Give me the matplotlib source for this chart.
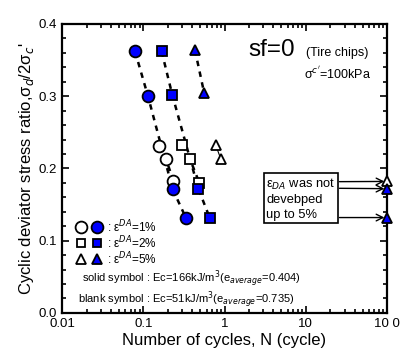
import numpy as np
import matplotlib
matplotlib.use("Agg")
import matplotlib.pyplot as plt
from matplotlib.ticker import LogLocator, MultipleLocator, FixedLocator, FixedFormatter

plt.rcParams['font.family'] = ['Liberation Sans', 'DejaVu Sans']

# Data
c_solid_N = [0.079, 0.114, 0.23, 0.333]
c_solid_R = [0.362, 0.300, 0.171, 0.132]
c_open_N = [0.155, 0.19, 0.234]
c_open_R = [0.231, 0.213, 0.183]

s_solid_N = [0.168, 0.227, 0.475, 0.66]
s_solid_R = [0.362, 0.302, 0.172, 0.131]
s_open_N = [0.302, 0.375, 0.489]
s_open_R = [0.232, 0.213, 0.180]

t_solid_N = [0.432, 0.562]
t_solid_R = [0.364, 0.304]
t_open_N = [0.78, 0.90]
t_open_R = [0.232, 0.213]

edge_N = [100, 100, 100]
edge_R = [0.182, 0.172, 0.132]
edge_open = [True, False, False]

xticks = [0.01, 0.1, 1, 10, 100]
xticklabels = ['0.01', '0.1', '1', '10', '10 0']
yticks = [0.0, 0.1, 0.2, 0.3, 0.4]

blue = '#0000ff'

fig = plt.figure(figsize=(4.01, 3.58), dpi=100)
ax = fig.add_axes([0.155, 0.126, 0.81, 0.807])
ax.set_xscale('log')
ax.set_xlim(0.01, 100)
ax.set_ylim(0, 0.4)

dash = dict(color='black', lw=1.8, ls=(0, (2.2, 2.2)), zorder=2)
ax.plot(c_solid_N, c_solid_R, **dash)
ax.plot(c_open_N, c_open_R, **dash)
ax.plot(s_solid_N, s_solid_R, **dash)
ax.plot(s_open_N, s_open_R, **dash)
ax.plot(t_solid_N, t_solid_R, **dash)
ax.plot(t_open_N, t_open_R, color='black', lw=0.8, zorder=2)

mk = dict(mec='black', mew=1.3, ls='none', zorder=3)
ax.plot(c_open_N, c_open_R, marker='o', ms=8.5, mfc='white', **mk)
ax.plot(c_solid_N, c_solid_R, marker='o', ms=8.5, mfc=blue, **mk)
ax.plot(s_open_N, s_open_R, marker='s', ms=6.5, mfc='white', **mk)
ax.plot(s_solid_N, s_solid_R, marker='s', ms=7, mfc=blue, **mk)
ax.plot(t_open_N, t_open_R, marker='^', ms=6.5, mfc='white', **mk)
ax.plot(t_solid_N, t_solid_R, marker='^', ms=6.5, mfc=blue, **mk)
for n, r, o in zip(edge_N, edge_R, edge_open):
    ax.plot([n], [r], marker='^', ms=6.5, mfc='white' if o else blue, clip_on=False, **mk)

# ticks
ax.xaxis.set_major_locator(FixedLocator(xticks))
ax.xaxis.set_major_formatter(FixedFormatter(xticklabels))
ax.xaxis.set_minor_locator(LogLocator(base=10, subs=np.arange(2, 10)))
ax.xaxis.set_minor_formatter(plt.NullFormatter())
ax.yaxis.set_major_locator(FixedLocator(yticks))
ax.yaxis.set_minor_locator(MultipleLocator(0.02))
ax.tick_params(which='both', direction='in', top=True, right=True, labelsize=9.5, width=1.2)
ax.tick_params(which='major', length=5)
ax.tick_params(which='minor', length=3)
for s in ax.spines.values():
    s.set_linewidth(1.6)

ax.set_xlabel('Number of cycles, N (cycle)', fontsize=12, labelpad=2)
ax.set_ylabel("Cyclic deviator stress ratio,σ$_{d}$/2σ$_{c}$'", fontsize=12, labelpad=2)

# annotations
ax.text(0.572, 0.889, 'sf=0', transform=ax.transAxes, fontsize=17.5, ha='left', va='baseline')
ax.text(0.752, 0.889, '(Tire chips)', transform=ax.transAxes, fontsize=9, ha='left', va='baseline')
ax.text(0.745, 0.81, "σ$^{c'}$=100kPa", transform=ax.transAxes, fontsize=9, ha='left', va='baseline')

# legend-like text
lx1, lx2 = 0.057, 0.108
rows = [(0.296, 'o', ': ε$^{DA}$=1%', 8.5), (0.242, 's', ': ε$^{DA}$=2%', 6), (0.188, '^', ': ε$^{DA}$=5%', 6.5)]
for y, m, t, ms in rows:
    ax.plot([lx1], [y], transform=ax.transAxes, marker=m, ms=ms, mfc='white', mec='black', mew=1.3, ls='none')
    ax.plot([lx2], [y], transform=ax.transAxes, marker=m, ms=ms, mfc=blue, mec='black', mew=1.3, ls='none')
    ax.text(0.138, y, t, transform=ax.transAxes, fontsize=8.5, va='center')
ax.text(0.06, 0.119, 'solid symbol : Ec=166kJ/m$^3$(e$_{average}$=0.404)', transform=ax.transAxes, fontsize=8.0, va='center')
ax.text(0.05, 0.048, 'blank symbol : Ec=51kJ/m$^3$(e$_{average}$=0.735)', transform=ax.transAxes, fontsize=8.0, va='center')

# box with arrows
ax.text(0.628, 0.47, 'ε$_{DA}$ was not\ndevebped\nup to 5%', transform=ax.transAxes, fontsize=9.3,
        va='top', ha='left', linespacing=1.25,
        bbox=dict(boxstyle='square,pad=0.2', fc='white', ec='black', lw=1.2))
arrow_start_R = [0.1817, 0.1725, 0.132]
for ys, ye in zip(arrow_start_R, edge_R):
    ax.annotate('', xy=(93, ye), xytext=(26, ys), xycoords='data', textcoords='data',
                annotation_clip=False,
                arrowprops=dict(arrowstyle='->', lw=1.0, color='black', mutation_scale=12,
                                shrinkA=0, shrinkB=0))

fig.savefig('out.png', dpi=100)
